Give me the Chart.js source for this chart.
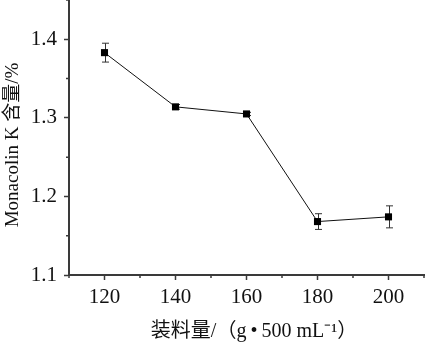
<!DOCTYPE html>
<html>
<head>
<meta charset="utf-8">
<script src="https://cdn.jsdelivr.net/npm/chart.js@4/dist/chart.umd.min.js"></script>
<style>
    html, body { margin: 0; padding: 0; background: #fff; }
    #wrap { width: 425px; height: 344px; position: relative; }
</style>
</head>
<body>
<div id="wrap"><canvas id="chart"></canvas></div>
<script>
// 装料量 (g/500 mL) 与 Monacolin K 含量
const loadings = [120, 140, 160, 180, 200];
const monacolinK = [1.383, 1.314, 1.305, 1.168, 1.174];
const errors = [0.012, 0.003, 0.002, 0.010, 0.014];

const xTickLabels = ['120', '140', '160', '180', '200'];
const yTickLabels = ['1.1', '1.2', '1.3', '1.4'];

const xTitle = '装料量/（g\u2009•\u2009500 mL⁻¹）';
const yTitle = 'Monacolin K 含量/%';

const axisColor = '#3a3a3a';
const serif = '"Liberation Serif", "Noto Sans CJK SC", serif';

// 误差棒
const errorBars = {
    id: 'errorBars',
    beforeDatasetsDraw(chart) {
        const { ctx, scales: { x, y } } = chart;
        ctx.save();
        ctx.strokeStyle = '#333';
        ctx.lineWidth = 1;
        loadings.forEach((v, i) => {
            const px = Math.round(x.getPixelForValue(v)) + 0.5;
            const top = y.getPixelForValue(monacolinK[i] + errors[i]);
            const bot = y.getPixelForValue(monacolinK[i] - errors[i]);
            ctx.beginPath();
            ctx.moveTo(px, top); ctx.lineTo(px, bot);
            ctx.moveTo(px - 3.5, top); ctx.lineTo(px + 3.5, top);
            ctx.moveTo(px - 3.5, bot); ctx.lineTo(px + 3.5, bot);
            ctx.stroke();
        });
        ctx.restore();
    }
};

function isMajorY(v) {
    return Math.abs(v * 10 - Math.round(v * 10)) < 1e-6 && yTickLabels.includes(v.toFixed(1));
}

// 次刻度线（较短）+ 坐标轴标题
const axisExtras = {
    id: 'axisExtras',
    afterDraw(chart) {
        const { ctx, scales: { x, y } } = chart;
        ctx.save();
        ctx.strokeStyle = axisColor;
        ctx.lineWidth = 1.5;
        ctx.beginPath();
        x.ticks.forEach(t => {
            if (xTickLabels.includes(String(t.value))) return;
            const px = x.getPixelForValue(t.value);
            ctx.moveTo(px, x.top); ctx.lineTo(px, x.top + 3);
        });
        y.ticks.forEach(t => {
            if (isMajorY(t.value)) return;
            const py = y.getPixelForValue(t.value);
            ctx.moveTo(y.right, py); ctx.lineTo(y.right - 3, py);
        });
        ctx.stroke();

        ctx.fillStyle = '#111';
        ctx.textAlign = 'center';
        ctx.textBaseline = 'middle';

        // 横轴标题
        ctx.font = '20px ' + serif;
        ctx.fillText(xTitle, 254, 332);

        // 纵轴标题
        ctx.translate(13, 145);
        ctx.rotate(-Math.PI / 2);
        ctx.font = '19px ' + serif;
        ctx.fillText(yTitle, 0, 0);
        ctx.restore();
    }
};

new Chart(document.getElementById('chart'), {
    type: 'line',
    data: {
        datasets: [{
            data: loadings.map((v, i) => ({ x: v, y: monacolinK[i] })),
            borderColor: '#111',
            borderWidth: 1,
            pointStyle: 'rect',
            pointRadius: 5,
            pointBackgroundColor: '#000',
            pointBorderColor: '#000',
            pointBorderWidth: 0,
            tension: 0,
            clip: false
        }]
    },
    options: {
        responsive: true,
        maintainAspectRatio: false,
        animation: false,
        layout: { autoPadding: false, padding: { top: 0, right: 1, left: 0, bottom: 0 } },
        plugins: { legend: { display: false }, tooltip: { enabled: false } },
        scales: {
            x: {
                type: 'linear',
                min: 110,
                max: 210,
                afterFit(scale) {
                    scale.height = 69;
                    scale.paddingLeft = 0;
                    scale.paddingRight = 0;
                },
                border: { color: axisColor, width: 2 },
                grid: {
                    drawOnChartArea: false,
                    tickLength: 5,
                    tickWidth: 1.5,
                    tickColor: ctx => xTickLabels.includes(String(ctx.tick.value)) ? axisColor : 'rgba(0,0,0,0)'
                },
                ticks: {
                    stepSize: 10,
                    autoSkip: false,
                    maxRotation: 0,
                    padding: 5,
                    color: '#111',
                    font: { family: serif, size: 21 },
                    callback: v => xTickLabels.includes(String(v)) ? String(v) : ''
                }
            },
            y: {
                min: 1.1,
                max: 1.45,
                afterFit(scale) {
                    scale.width = 69;
                    scale.paddingTop = 0;
                    scale.paddingBottom = 0;
                },
                border: { color: axisColor, width: 2 },
                grid: {
                    drawOnChartArea: false,
                    tickLength: 5,
                    tickWidth: 1.5,
                    tickColor: ctx => isMajorY(ctx.tick.value) ? axisColor : 'rgba(0,0,0,0)'
                },
                ticks: {
                    stepSize: 0.05,
                    autoSkip: false,
                    padding: 7,
                    color: '#111',
                    font: { family: serif, size: 21 },
                    callback: v => isMajorY(v) ? v.toFixed(1) : ''
                }
            }
        }
    },
    plugins: [errorBars, axisExtras]
});
</script>
</body>
</html>
